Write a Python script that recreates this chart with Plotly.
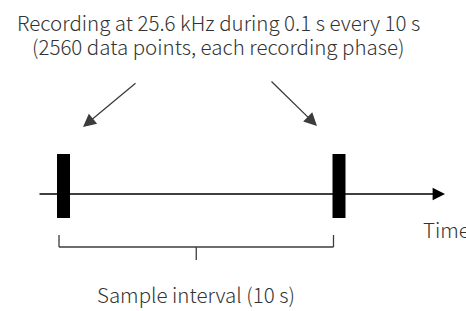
import plotly.graph_objects as go

# ---- data -------------------------------------------------------------
record_times = [0, 10]            # s, recording phases on the time line
sample_interval = 10              # s
title_lines = ["Recording at 25.6 kHz during 0.1 s every 10 s",
               "(2560 data points, each recording phase)"]
axis_label = "Time"
interval_label = "Sample interval (10 s)"

# ---- layout / style ---------------------------------------------------
W, H = 466, 311
PX0 = 63.5            # page pixel of t = 0
PPS = 27.55           # pixels per second (schematic)
def sx(px):           # pixel offset -> seconds
    return px / PPS

FONT = "Noto Sans CJK SC"
FS = 20.5
TXT = "#333333"
LINE = "#3c3c3c"
Y_AXIS = 194
BAR_HALF_W = sx(6.5)
BAR_TOP, BAR_BOT = 154, 218

fig = go.Figure()
# invisible anchor trace on the time line
fig.add_trace(go.Scatter(x=record_times, y=[Y_AXIS] * len(record_times),
                         mode="markers", marker=dict(size=1, opacity=0),
                         hoverinfo="skip", showlegend=False))

shapes = []
annotations = []

# recording bars
for t in record_times:
    shapes.append(dict(type="rect", xref="x", yref="y",
                       x0=t - BAR_HALF_W, x1=t + BAR_HALF_W,
                       y0=BAR_TOP, y1=BAR_BOT,
                       fillcolor="black", line=dict(width=0)))

# time axis arrow
t_start = record_times[0] - sx(25.5)
t_end = record_times[-1] + sx(106)
annotations.append(dict(x=t_end, y=Y_AXIS, ax=t_start, ay=Y_AXIS,
                        xref="x", yref="y", axref="x", ayref="y",
                        text="", showarrow=True, arrowhead=2,
                        arrowsize=1.9, arrowwidth=1.3, arrowcolor="black",
                        standoff=0, startstandoff=0))
annotations.append(dict(x=record_times[-1] + sx(82), y=229, xref="x", yref="y",
                        text=axis_label, showarrow=False, xanchor="left",
                        yanchor="middle",
                        font=dict(family=FONT, size=FS, color=TXT, weight=300)))

# arrows from the caption to the bars
arrow_geo = [((19.5, 127), (73.5, 82)), ((-22, 126), (-69, 80))]
for t, ((dx_tip, y_tip), (dx_tail, y_tail)) in zip(record_times, arrow_geo):
    annotations.append(dict(x=t + sx(dx_tip), y=y_tip,
                            ax=t + sx(dx_tail), ay=y_tail,
                            xref="x", yref="y", axref="x", ayref="y",
                            text="", showarrow=True, arrowhead=2,
                            arrowsize=2.0, arrowwidth=1.3, arrowcolor=LINE,
                            standoff=0, startstandoff=0))

# caption
cx = (record_times[0] + record_times[-1]) / 2 + sx(17)
for line, yy in zip(title_lines, [22, 46]):
    annotations.append(dict(x=cx, y=yy, xref="x", yref="y", text=line,
                            showarrow=False, xanchor="center", yanchor="middle",
                            font=dict(family=FONT, size=FS, color=TXT, weight=300)))

# bracket for the sample interval
b0 = record_times[0] - sx(4.5)
b1 = record_times[0] + sample_interval - sx(5.5)
bm = (b0 + b1) / 2
for xa, ya, xb, yb in [(b0, 235, b0, 247), (b0, 247, b1, 247),
                       (b1, 235, b1, 247), (bm, 247, bm, 260)]:
    shapes.append(dict(type="line", xref="x", yref="y", x0=xa, y0=ya,
                       x1=xb, y1=yb, line=dict(color=LINE, width=1.3)))
annotations.append(dict(x=bm, y=294, xref="x", yref="y", text=interval_label,
                        showarrow=False, xanchor="center", yanchor="middle",
                        font=dict(family=FONT, size=FS, color=TXT, weight=300)))

fig.update_layout(
    width=W, height=H,
    margin=dict(l=0, r=0, t=0, b=0),
    paper_bgcolor="white", plot_bgcolor="white",
    xaxis=dict(range=[-PX0 / PPS, (W - PX0) / PPS], visible=False,
               fixedrange=True),
    yaxis=dict(range=[H, 0], visible=False, fixedrange=True),
    shapes=shapes, annotations=annotations, showlegend=False,
    hovermode=False,
)

fig.write_html("out.html",
               config={"displayModeBar": False, "staticPlot": True},
               post_script="document.body.style.margin='0';"
                           "document.body.style.overflow='hidden';")
